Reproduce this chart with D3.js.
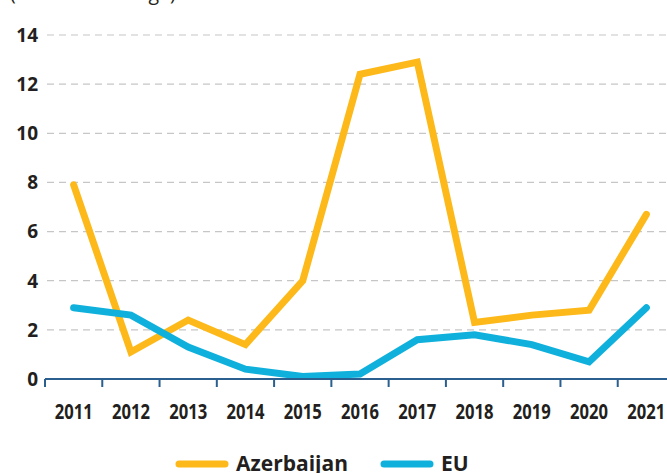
<!DOCTYPE html>
<html>
  <head>
    <meta charset="utf-8">
    <script src="https://d3js.org/d3.v7.min.js"></script>
    <style>
      body { margin: 0px; background: #fff; }
      .ytick { fill: #231f20; font-size: 19px; font-weight: bold; font-family: "Open Sans", sans-serif; }
      .xtick { fill: #231f20; font-size: 21px; font-weight: bold; font-family: "Open Sans", sans-serif; }
      .legend-label { fill: #231f20; font-size: 21px; font-weight: bold; font-family: "Open Sans", sans-serif; }
    </style>
  </head>
  <body>
    <svg width="667" height="473"></svg>
    <script>
      const years = ['2011','2012','2013','2014','2015','2016','2017','2018','2019','2020','2021'];
      const azerbaijan = [7.9, 1.1, 2.4, 1.4, 4.0, 12.4, 12.9, 2.3, 2.6, 2.8, 6.7];
      const eu = [2.9, 2.6, 1.3, 0.4, 0.1, 0.2, 1.6, 1.8, 1.4, 0.7, 2.9];
      const yTicks = [0, 2, 4, 6, 8, 10, 12, 14];
      const seriesNames = ['Azerbaijan', 'EU'];
      const seriesColors = ['#fdb91a', '#0fb1dc'];

      const svg = d3.select('svg');

      const xScale = d3.scaleBand().domain(years).range([45, 675]);
      const yScale = d3.scaleLinear().domain([0, 14]).range([379, 35]);

      // cropped unit caption at the very top
      svg.append('text')
          .attr('x', 10)
          .attr('y', 0)
          .style('font-family', '"Open Sans", sans-serif')
          .style('font-size', '19.5px')
          .attr('fill', '#231f20')
          .text('(annual % change)');

      // grid
      svg.append('g').selectAll('line').data(yTicks.filter(d => d > 0))
        .enter().append('line')
          .attr('x1', 47).attr('x2', 667)
          .attr('y1', d => yScale(d)).attr('y2', d => yScale(d))
          .attr('stroke', '#c6c6c6')
          .attr('stroke-width', 1.2)
          .attr('stroke-dasharray', '7,5');

      svg.append('g').selectAll('text').data(yTicks)
        .enter().append('text')
          .attr('class', 'ytick')
          .attr('x', 38)
          .attr('y', d => yScale(d))
          .attr('dy', '0.36em')
          .attr('text-anchor', 'end')
          .text(d => d);

      // lines
      const line = d3.line()
        .x((d, i) => xScale(years[i]) + xScale.bandwidth() / 2)
        .y(d => yScale(d));

      [azerbaijan, eu].forEach((s, k) => {
        svg.append('path')
          .datum(s)
          .attr('fill', 'none')
          .attr('stroke', seriesColors[k])
          .attr('stroke-width', 7)
          .attr('stroke-linejoin', 'miter')
          .attr('stroke-linecap', 'round')
          .attr('d', line);
      });

      // x axis
      const axisG = svg.append('g');
      axisG.append('line')
          .attr('x1', 45).attr('x2', 667)
          .attr('y1', 379).attr('y2', 379)
          .attr('stroke', '#2a5f8f').attr('stroke-width', 2);
      axisG.selectAll('.tk').data(years)
        .enter().append('line')
          .attr('class', 'tk')
          .attr('x1', d => xScale(d)).attr('x2', d => xScale(d))
          .attr('y1', 379).attr('y2', 387)
          .attr('stroke', '#2a5f8f').attr('stroke-width', 2);
      // condensed look: squeeze the bold digits to the narrow width of the original
      axisG.selectAll('text').data(years)
        .enter().append('text')
          .attr('class', 'xtick')
          .attr('x', d => xScale(d) + xScale.bandwidth() / 2)
          .attr('y', 419)
          .attr('text-anchor', 'middle')
          .attr('textLength', 38)
          .attr('lengthAdjust', 'spacingAndGlyphs')
          .text(d => d);

      // legend
      const legendX = [176, 381];
      const legendG = svg.append('g');
      seriesNames.forEach((name, k) => {
        legendG.append('line')
          .attr('x1', legendX[k] + 3).attr('x2', legendX[k] + 49)
          .attr('y1', 464).attr('y2', 464)
          .attr('stroke', seriesColors[k])
          .attr('stroke-width', 7)
          .attr('stroke-linecap', 'round');
        legendG.append('text')
          .attr('class', 'legend-label')
          .attr('x', legendX[k] + 60)
          .attr('y', 471)
          .text(name);
      });
    </script>
  </body>
</html>
